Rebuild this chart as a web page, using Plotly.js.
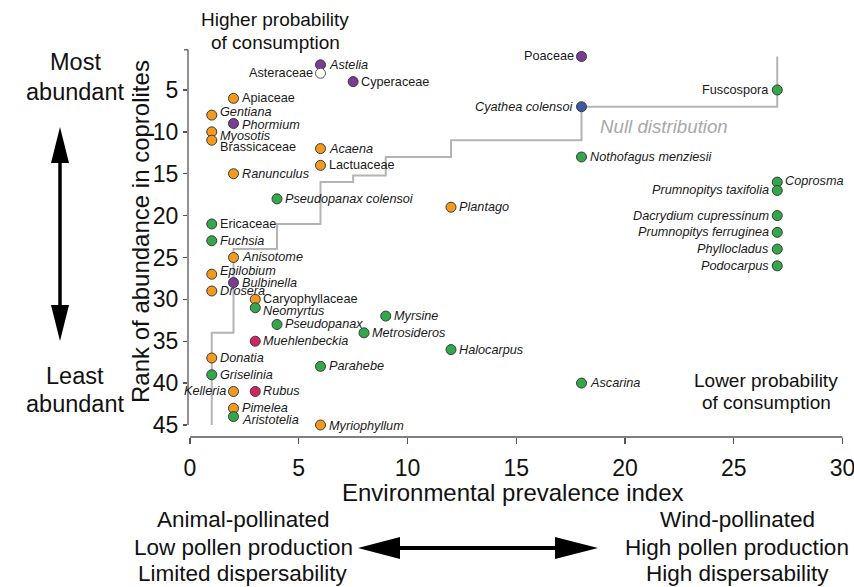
<!DOCTYPE html>
<html>
<head>
<meta charset="utf-8">
<script src="https://cdn.plot.ly/plotly-3.0.1.min.js"></script>
<style>html,body{margin:0;padding:0;background:#fff}#chart{width:854px;height:587px}</style>
</head>
<body>
<div id="chart"></div>
<script>
// ---------- data ----------
const taxa = ["Poaceae","Astelia","Asteraceae","Cyperaceae","Fuscospora","Apiaceae","Cyathea colensoi","Gentiana","Phormium","Myosotis","Brassicaceae","Acaena","Nothofagus menziesii","Lactuaceae","Ranunculus","Coprosma","Prumnopitys taxifolia","Pseudopanax colensoi","Plantago","Dacrydium cupressinum","Ericaceae","Prumnopitys ferruginea","Fuchsia","Phyllocladus","Anisotome","Podocarpus","Epilobium","Bulbinella","Drosera","Caryophyllaceae","Neomyrtus","Myrsine","Pseudopanax","Metrosideros","Muehlenbeckia","Halocarpus","Donatia","Parahebe","Griselinia","Ascarina","Kelleria","Rubus","Pimelea","Aristotelia","Myriophyllum"];
const envIndex = [18,6,6,7.5,27,2,18,1,2,1,1,6,18,6,2,27,27,4,12,27,1,27,1,27,2,27,1,2,1,3,3,9,4,8,3,12,1,6,1,18,2,3,2,2,6];
const rankAbund = [1,2,3,4,5,6,7,8,9,10,11,12,13,14,15,16,17,18,19,20,21,22,23,24,25,26,27,28,29,30,31,32,33,34,35,36,37,38,39,40,41,41,43,44,45];
const group = ["purple","purple","white","purple","green","orange","blue","orange","purple","orange","orange","orange","green","orange","orange","green","green","green","orange","green","green","green","green","green","orange","green","orange","purple","orange","orange","green","green","green","green","magenta","green","orange","green","green","green","orange","magenta","orange","green","orange"];
const uprightNames = ["Poaceae","Asteraceae","Cyperaceae","Fuscospora","Apiaceae","Brassicaceae","Lactuaceae","Ericaceae","Caryophyllaceae"];
// null distribution step line
const nullX = [1,1,2,2,4,4,6,6,7.5,7.5,9,9,12,12,18,18,27,27];
const nullY = [45,34,34,24,24,21,21,16,16,15.2,15.2,13,13,11,11,7,7,1];
const xTicks = [0,5,10,15,20,25,30];
const yTicks = [5,10,15,20,25,30,35,40,45];

// ---------- style ----------
const colorMap = {orange:"#F39A1E", green:"#33A84A", purple:"#7B3B97", magenta:"#D4245F", blue:"#3A5AA6", white:"#FFFFFF"};
const leftLabels = ["Poaceae","Asteraceae","Fuscospora","Cyathea colensoi","Prumnopitys taxifolia","Dacrydium cupressinum","Prumnopitys ferruginea","Phyllocladus","Podocarpus","Kelleria"];
const nudgeY = {"Gentiana":3,"Myosotis":-4,"Brassicaceae":-7,"Epilobium":3,"Aristotelia":-3,"Neomyrtus":-3,"Coprosma":1,"Phormium":-2,"Myriophyllum":-1};
const FONT = "Liberation Sans, Arial, sans-serif";

// plot-area geometry (pixels) for helper conversion
const L = 188, R = 4, T = 40, B = 150, W = 854, H = 587;
const XPU = 21.75, X0PX = 190, YPU = 8.375, Y0PX = 48.1;
const pw = W - L - R, ph = H - T - B;
const px = x => (x - L) / pw;
const py = y => (H - B - y) / ph;

const annotations = [];
taxa.forEach((n, i) => {
  const left = leftLabels.includes(n);
  const t = uprightNames.includes(n) ? n : "<i>" + n + "</i>";
  annotations.push({x: envIndex[i], y: rankAbund[i], xref: "x", yref: "y", text: t, showarrow: false,
    xanchor: left ? "right" : "left", yanchor: "middle", xshift: left ? -7 : 7, yshift: nudgeY[n] || 0,
    borderpad: 0, font: {family: FONT, size: 12.7, color: "#1a1a1a"}});
});
function txt(t, x, y, size, extra) {
  annotations.push(Object.assign({text: t, xref: "paper", yref: "paper", x: px(x), y: py(y), showarrow: false,
    xanchor: "center", yanchor: "middle", borderpad: 0, font: {family: FONT, size: size, color: "#111"}}, extra || {}));
}
txt("Higher probability", 275, 20, 19);
txt("of consumption", 275, 42, 19);
txt("Lower probability", 766, 380, 19);
txt("of consumption", 766, 402, 19);
txt("<i>Null distribution</i>", 664, 126, 18.7, {font: {family: FONT, size: 18.7, color: "#A8A8A8"}});
txt("Most", 75, 62, 23.5); txt("abundant", 75, 92, 23.5);
txt("Least", 75, 376, 23.5); txt("abundant", 75, 404, 23.5);
txt("Animal-pollinated", 243, 519, 22.5); txt("Low pollen production", 243, 547, 22.5); txt("Limited dispersability", 243, 573, 22.5);
txt("Wind-pollinated", 737, 519, 22.5); txt("High pollen production", 737, 547, 22.5); txt("High dispersability", 737, 573, 22.5);
txt("Rank of abundance in coprolites", 140, 232, 24, {textangle: -90});
txt("Environmental prevalence index", 513, 492, 24);

function poly(pts) {
  return "M" + pts.map(p => px(p[0]) + "," + py(p[1])).join(" L") + " Z";
}
const shapes = [
  // axis spines
  {type: "line", xref: "x", yref: "paper", x0: 0, x1: 30, y0: 0, y1: 0, line: {color: "#555", width: 1.3}},
  {type: "line", xref: "paper", yref: "y", x0: 0, x1: 0, y0: 0.2, y1: 45, line: {color: "#555", width: 1.3}},
  {type: "line", xref: "paper", yref: "y", x0: 0, x1: px(184), y0: 0.2, y1: 0.2, line: {color: "#555", width: 1.3}},
  // vertical double arrow
  {type: "line", xref: "paper", yref: "paper", x0: px(60), x1: px(60), y0: py(160), y1: py(308), line: {color: "#000", width: 3.5}},
  {type: "path", xref: "paper", yref: "paper", path: poly([[60,127],[51,163],[69,163]]), fillcolor: "#000", line: {width: 0}},
  {type: "path", xref: "paper", yref: "paper", path: poly([[60,341],[51,305],[69,305]]), fillcolor: "#000", line: {width: 0}},
  // horizontal double arrow
  {type: "line", xref: "paper", yref: "paper", x0: px(395), x1: px(558), y0: py(548), y1: py(548), line: {color: "#000", width: 4}},
  {type: "path", xref: "paper", yref: "paper", path: poly([[358,548],[400,537],[400,559]]), fillcolor: "#000", line: {width: 0}},
  {type: "path", xref: "paper", yref: "paper", path: poly([[598,548],[555,537],[555,559]]), fillcolor: "#000", line: {width: 0}}
];

const traces = [
  {x: nullX, y: nullY, mode: "lines", type: "scatter", line: {color: "#B4B4B4", width: 2, shape: "linear"}, hoverinfo: "skip", cliponaxis: false},
  {x: envIndex, y: rankAbund, mode: "markers", type: "scatter", cliponaxis: false,
   marker: {size: 10, color: group.map(g => colorMap[g]), line: {color: group.map(g => g === "white" ? "#555" : "#3a3a3a"), width: 1}}}
];

const layout = {
  width: W, height: H, showlegend: false, paper_bgcolor: "#fff", plot_bgcolor: "#fff",
  margin: {l: L, r: R, t: T, b: B, pad: 0},
  font: {family: FONT, color: "#111"},
  xaxis: {range: [(L - X0PX) / XPU, (W - R - X0PX) / XPU], tickvals: xTicks, ticks: "outside", ticklen: 6, tickwidth: 1.3,
    tickcolor: "#555", showline: false, showgrid: false, zeroline: false, tickfont: {size: 23, family: FONT, color: "#111"},
    ticklabelstandoff: 4, ticklabeloverflow: "allow"},
  yaxis: {range: [(H - B - Y0PX) / YPU, (T - Y0PX) / YPU], tickvals: yTicks, ticks: "outside", ticklen: 4, tickwidth: 1.3,
    tickcolor: "#555", showline: false, showgrid: false, zeroline: false, tickfont: {size: 23, family: FONT, color: "#111"}},
  shapes: shapes,
  annotations: annotations
};
Plotly.newPlot("chart", traces, layout, {staticPlot: true, displayModeBar: false});
</script>
</body>
</html>
